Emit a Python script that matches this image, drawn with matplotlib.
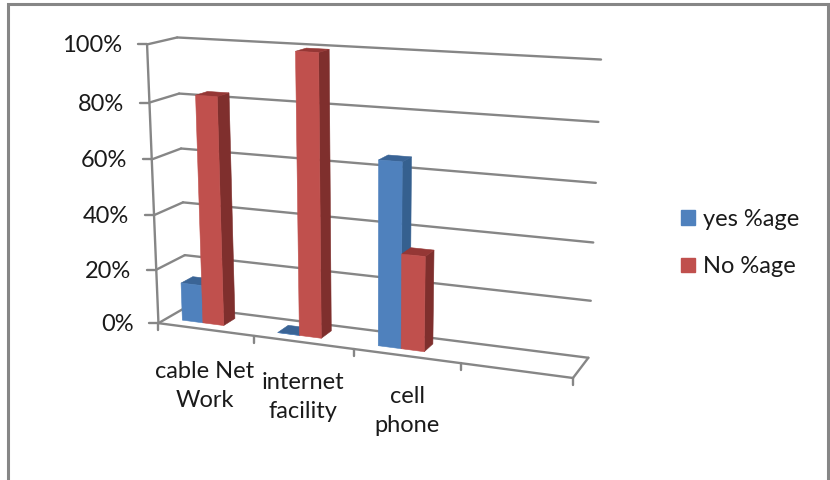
import numpy as np
import matplotlib
matplotlib.use("Agg")
import matplotlib.pyplot as plt
from matplotlib.patches import Polygon, Patch

# Chart data
categories = ["cable Net\nWork", "internet\nfacility", "cell\nphone"]
yes_pct = [0.14, 0.0, 0.65]
no_pct = [0.825, 0.995, 0.335]
tick_values = [0.0, 0.2, 0.4, 0.6, 0.8, 1.0]
tick_labels = ["0%", "20%", "40%", "60%", "80%", "100%"]
series_names = ["yes %age", "No %age"]

# Face colours: front, side, top
BLUE = ("#4F81BD", "#35608F", "#3A6496")
RED = ("#C0504D", "#7F2F2D", "#953735")
GREY = "#868686"
TEXT = "#1a1a1a"
FONT = "Lato"
FONT_SIZE = 17

# Category slots along the floor, plus bar placement inside a slot
N_SLOTS = 4
BAR_START = 0.165
BAR_WIDTH = 0.22
BAR_FRONT = 0.30
BAR_BACK = 0.72

# Reference frame of the oblique view: (slot, value, depth) -> canvas pixel
frame_3d = np.array([
    (0, 0, 0), (0, 1, 0), (0, 0, 1), (0, 1, 1),
    (4, 0, 1), (4, 1, 1), (4, 0, 0),
    (1, 0, 0), (2, 0, 0), (3, 0, 0),
    (0, .6, 0), (0, .6, 1), (4, .6, 1),
], dtype=float)
frame_px = np.array([
    (159, 322), (147, 45), (187, 308), (177, 37),
    (588, 357), (601, 60), (574, 378),
    (253, 337), (354, 349), (460, 363),
    (152, 159), (181, 148), (596, 183),
], dtype=float)


def fit_camera(world, pixels):
    rows, rhs = [], []
    for (x, y, z), (u, v) in zip(world, pixels):
        rows.append([x, y, z, 1, 0, 0, 0, 0, -u * x, -u * y, -u * z])
        rows.append([0, 0, 0, 0, x, y, z, 1, -v * x, -v * y, -v * z])
        rhs += [u, v]
    p = np.linalg.lstsq(np.array(rows), np.array(rhs), rcond=None)[0]
    return np.append(p, 1.0).reshape(3, 4)


CAMERA = fit_camera(frame_3d, frame_px)


def project(slot, value, depth):
    h = CAMERA @ np.array([slot, value, depth, 1.0])
    return h[:2] / h[2]


fig = plt.figure(figsize=(8.3, 4.8), dpi=100)
ax = fig.add_axes([0, 0, 1, 1])
ax.set_xlim(0, 830)
ax.set_ylim(480, 0)
ax.axis("off")


def line(a, b, lw=1.7, z=1):
    ax.plot([a[0], b[0]], [a[1], b[1]], color=GREY, lw=lw, zorder=z,
            solid_capstyle="round")


# Outer chart border
ax.plot([8, 8, 828, 828], [480, 3.5, 3.5, 480], color=GREY, lw=2.2, zorder=1,
        solid_joinstyle="miter")

# Walls, gridlines and value ticks
for val, lab in zip(tick_values, tick_labels):
    front = project(0, val, 0)
    back = project(0, val, 1)
    right = project(N_SLOTS, val, 1)
    line(front, back)
    line(back, right)
    line(front, front - np.array([9.0, 0.0]))
    ax.text(front[0] - 25, front[1] + 1.5, lab, ha="right", va="center",
            fontsize=FONT_SIZE, color=TEXT, family=FONT)
line(project(0, 0, 0), project(0, 1, 0))

# Floor edges and category ticks
line(project(0, 0, 0), project(N_SLOTS, 0, 0))
line(project(N_SLOTS, 0, 0), project(N_SLOTS, 0, 1))
for slot in range(N_SLOTS + 1):
    p = project(slot, 0, 0)
    line(p, p + np.array([0.0, 7.0]))

label_centres = [(205, 386), (303, 397), (407, 411)]
for name, (cx, cy) in zip(categories, label_centres):
    ax.text(cx, cy, name, ha="center", va="center", fontsize=FONT_SIZE,
            color=TEXT, family=FONT, linespacing=1.45, multialignment="center")


def draw_bar(left, value, colours, z):
    right = left + BAR_WIDTH
    front_col, side_col, top_col = colours
    faces = [
        ([(right, 0, BAR_FRONT), (right, 0, BAR_BACK),
          (right, value, BAR_BACK), (right, value, BAR_FRONT)], side_col),
        ([(left, value, BAR_FRONT), (right, value, BAR_FRONT),
          (right, value, BAR_BACK), (left, value, BAR_BACK)], top_col),
        ([(left, 0, BAR_FRONT), (right, 0, BAR_FRONT),
          (right, value, BAR_FRONT), (left, value, BAR_FRONT)], front_col),
    ]
    for corners, col in faces:
        pts = [project(*c) for c in corners]
        ax.add_patch(Polygon(pts, closed=True, facecolor=col, edgecolor=col,
                             lw=0.4, zorder=z))


for i, (y_val, n_val) in enumerate(zip(yes_pct, no_pct)):
    draw_bar(i + BAR_START, y_val, BLUE, 3 + 2 * i)
    draw_bar(i + BAR_START + BAR_WIDTH, n_val, RED, 4 + 2 * i)

handles = [Patch(facecolor=BLUE[0], edgecolor=BLUE[0], label=series_names[0]),
           Patch(facecolor=RED[0], edgecolor=RED[0], label=series_names[1])]
ax.legend(handles=handles, loc="upper left", bbox_to_anchor=(681 / 830, 1 - 209 / 480),
          bbox_transform=fig.transFigure, frameon=False, handlelength=0.58,
          handleheight=0.58, handletextpad=0.35, labelspacing=1.12,
          borderpad=0, borderaxespad=0,
          prop={"family": FONT, "size": FONT_SIZE}, labelcolor=TEXT)

fig.savefig("out.png", dpi=100, facecolor="white")
